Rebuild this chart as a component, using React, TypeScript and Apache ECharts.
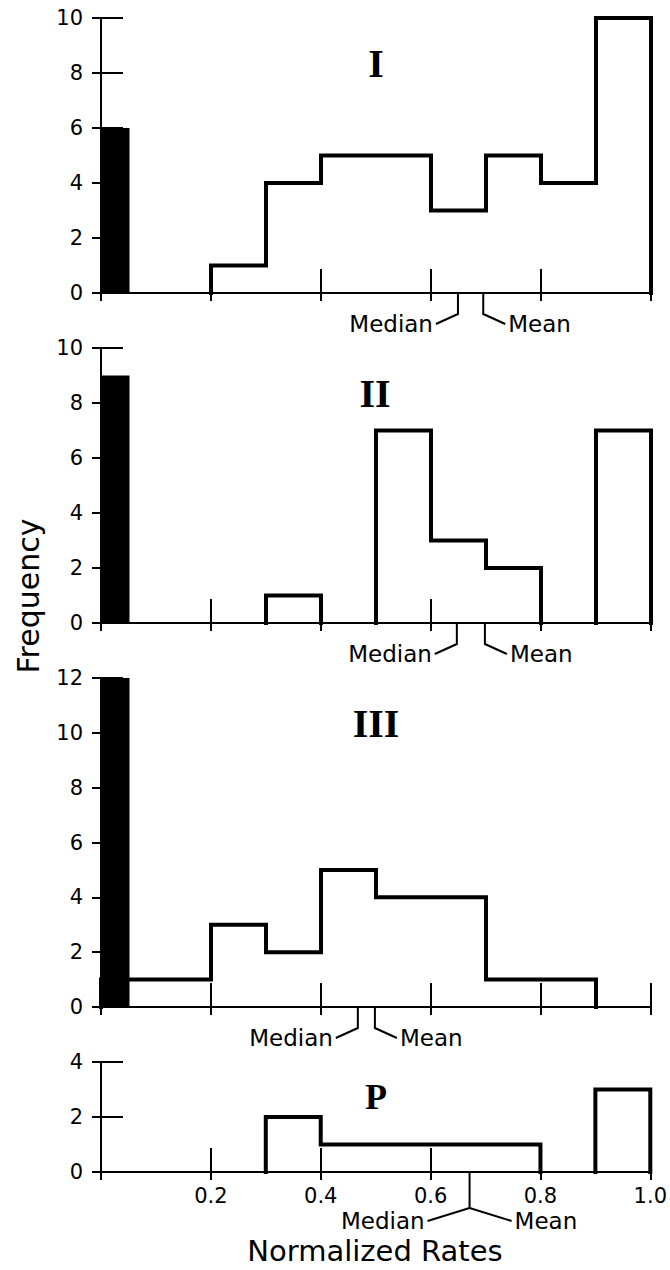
import React, { useEffect, useRef } from 'react';
import * as echarts from 'echarts';

// ---- data ----
const binEdges = [0, 0.1, 0.2, 0.3, 0.4, 0.5, 0.6, 0.7, 0.8, 0.9, 1.0];
const panelNames = ['I', 'II', 'III', 'P'];
const countsI = [0, 0, 1, 4, 5, 5, 3, 5, 4, 10];
const countsII = [0, 0, 0, 1, 0, 7, 3, 2, 0, 7];
const countsIII = [1, 1, 3, 2, 5, 4, 4, 1, 1, 0];
const countsP = [0, 0, 0, 2, 1, 1, 1, 1, 0, 3];
const zeroRateCounts = [6, 9, 12, 0]; // filled bar at rate 0
const zeroBarEnd = 0.05;
const medians = [0.649, 0.647, 0.467, 0.671];
const means = [0.695, 0.698, 0.498, 0.671];
const yMaxes = [10, 10, 12, 4];
const yInterval = 2;
const xMin = 0;
const xMax = 1;
const xInterval = 0.2;

const allCounts = [countsI, countsII, countsIII, countsP];

// ---- layout ----
const gridTops = [18, 348, 678, 1062];
const gridHeights = [275, 275, 329, 110];
const GRID_LEFT = 101;
const GRID_WIDTH = 550;
const SANS = '"DejaVu Sans", sans-serif';
const SERIF = '"Liberation Serif", serif';

function runsOf(counts: number[]) {
  const runs: number[][][] = [];
  let i = 0;
  while (i < counts.length) {
    if (counts[i] > 0) {
      const pts: number[][] = [[binEdges[i], 0]];
      let j = i;
      while (j < counts.length && counts[j] > 0) {
        pts.push([binEdges[j], counts[j]]);
        pts.push([binEdges[j + 1], counts[j]]);
        j++;
      }
      pts.push([binEdges[j], 0]);
      runs.push(pts);
      i = j;
    } else i++;
  }
  return runs;
}

function buildOption() {
  const grid: any[] = [];
  const xAxis: any[] = [];
  const yAxis: any[] = [];
  const series: any[] = [];

  panelNames.forEach((_, p) => {
    grid.push({ left: GRID_LEFT, width: GRID_WIDTH, top: gridTops[p], height: gridHeights[p] });
    const isLast = p === panelNames.length - 1;
    // outer x axis (line, outer ticks, labels)
    xAxis.push({
      type: 'value', gridIndex: p, min: xMin, max: xMax, interval: xInterval, position: 'bottom',
      axisLine: { show: true, onZero: false, lineStyle: { color: '#000', width: 2 } },
      axisTick: { show: true, inside: false, length: 8, lineStyle: { color: '#000', width: 2 } },
      axisLabel: {
        show: isLast, margin: 13, color: '#000', fontFamily: SANS, fontSize: 21, lineHeight: 21,
        formatter: (v: number) => (v === 0 ? '' : v.toFixed(1)),
      },
      splitLine: { show: false },
    });
    // inner x ticks
    xAxis.push({
      type: 'value', gridIndex: p, min: xMin, max: xMax, interval: xInterval, position: 'bottom',
      axisLine: { show: false, onZero: false },
      axisTick: { show: true, inside: true, length: 24, lineStyle: { color: '#000', width: 2 } },
      axisLabel: { show: false },
      splitLine: { show: false },
    });
    yAxis.push({
      type: 'value', gridIndex: p, min: 0, max: yMaxes[p], interval: yInterval, position: 'left',
      axisLine: { show: true, onZero: false, lineStyle: { color: '#000', width: 2 } },
      axisTick: { show: true, inside: false, length: 9, lineStyle: { color: '#000', width: 2 } },
      axisLabel: { show: true, margin: 18, color: '#000', fontFamily: SANS, fontSize: 21 },
      splitLine: { show: false },
    });
    yAxis.push({
      type: 'value', gridIndex: p, min: 0, max: yMaxes[p], interval: yInterval, position: 'left',
      axisLine: { show: false, onZero: false },
      axisTick: { show: true, inside: true, length: 22, lineStyle: { color: '#000', width: 2 } },
      axisLabel: { show: false },
      splitLine: { show: false },
    });

    const xi = p * 2;
    const yi = p * 2;

    runsOf(allCounts[p]).forEach((pts, r) => {
      series.push({
        type: 'line', name: `hist-${p}-${r}`, xAxisIndex: xi, yAxisIndex: yi,
        data: pts, symbol: 'none', clip: false, z: 3,
        lineStyle: { color: '#000', width: 4, join: 'miter', cap: 'square' },
      });
    });

    if (zeroRateCounts[p] > 0) {
      series.push({
        type: 'custom', name: `zero-${p}`, xAxisIndex: xi, yAxisIndex: yi, z: 4, clip: false,
        data: [[0, zeroBarEnd, zeroRateCounts[p]]],
        encode: { x: [0, 1], y: 2 },
        renderItem: (params: any, api: any) => {
          const a = api.coord([api.value(0), api.value(2)]);
          const b = api.coord([api.value(1), 0]);
          return {
            type: 'rect',
            shape: { x: a[0], y: a[1], width: b[0] - a[0] + 1, height: b[1] - a[1] },
            style: { fill: '#000' },
          };
        },
      });
    }

    series.push({
      type: 'custom', name: `stats-${p}`, xAxisIndex: xi, yAxisIndex: yi, z: 5, clip: false,
      data: [[medians[p], means[p]]],
      encode: { x: [0, 1] },
      renderItem: (params: any, api: any) => {
        const m = api.coord([api.value(0), 0]);
        const n = api.coord([api.value(1), 0]);
        const single = Math.abs(m[0] - n[0]) < 2;
        const drop = single ? 35 : 20;
        const dx = single ? 42 : 22;
        const dy = single ? 13 : 10;
        const ls = { stroke: '#000', lineWidth: 2, fill: null };
        const children: any[] = [];
        const y0 = m[1] + 1;
        if (single) {
          children.push({ type: 'polyline', shape: { points: [[m[0], y0], [m[0], y0 + drop], [m[0] - dx, y0 + drop + dy]] }, style: ls });
          children.push({ type: 'polyline', shape: { points: [[m[0], y0 + drop], [m[0] + dx, y0 + drop + dy]] }, style: ls });
        } else {
          children.push({ type: 'polyline', shape: { points: [[m[0], y0], [m[0], y0 + drop], [m[0] - dx, y0 + drop + dy]] }, style: ls });
          children.push({ type: 'polyline', shape: { points: [[n[0], y0], [n[0], y0 + drop], [n[0] + dx, y0 + drop + dy]] }, style: ls });
        }
        const ty = y0 + drop + dy;
        children.push({
          type: 'text', x: m[0] - dx - 3, y: ty,
          style: { text: 'Median', font: `23px ${SANS}`, fill: '#000', align: 'right', textAlign: 'right', verticalAlign: 'middle', textVerticalAlign: 'middle' },
        });
        children.push({
          type: 'text', x: n[0] + dx + 3, y: ty,
          style: { text: 'Mean', font: `23px ${SANS}`, fill: '#000', align: 'left', textAlign: 'left', verticalAlign: 'middle', textVerticalAlign: 'middle' },
        });
        return { type: 'group', children };
      },
    });
  });

  const numeralPos = [[376, 63], [375, 393], [376, 723], [376, 1097]];
  const numeralSize = [40, 40, 40, 36];
  const graphic: any[] = panelNames.map((name, p) => ({
    type: 'text', x: numeralPos[p][0], y: numeralPos[p][1],
    style: {
      text: name, font: `bold ${numeralSize[p]}px ${SERIF}`, fill: '#000',
      align: 'center', textAlign: 'center', verticalAlign: 'middle', textVerticalAlign: 'middle',
    },
  }));
  graphic.push({
    type: 'text', x: 28, y: 596, rotation: Math.PI / 2,
    style: { text: 'Frequency', font: `30px ${SANS}`, fill: '#000', align: 'center', textAlign: 'center', verticalAlign: 'middle', textVerticalAlign: 'middle' },
  });
  graphic.push({
    type: 'text', x: 375, y: 1251,
    style: { text: 'Normalized Rates', font: `29px ${SANS}`, fill: '#000', align: 'center', textAlign: 'center', verticalAlign: 'middle', textVerticalAlign: 'middle' },
  });

  return {
    animation: false,
    backgroundColor: '#fff',
    grid, xAxis, yAxis, series, graphic,
  };
}

export default function App() {
  const ref = useRef<HTMLDivElement>(null);
  useEffect(() => {
    if (!ref.current) return;
    const chart = echarts.init(ref.current, undefined, { renderer: 'svg' });
    chart.setOption(buildOption() as any);
    return () => chart.dispose();
  }, []);
  return (
    <div
      ref={ref}
      style={{ position: 'absolute', left: 0, top: 0, width: 670, height: 1270, background: '#fff' }}
    />
  );
}
